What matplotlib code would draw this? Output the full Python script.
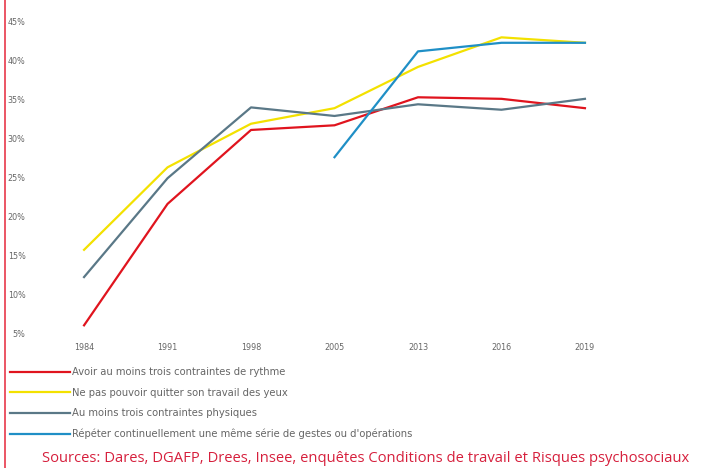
import matplotlib.pyplot as plt
from matplotlib.lines import Line2D

years = ['1984', '1991', '1998', '2005', '2013', '2016', '2019']
y_ticks = [5, 10, 15, 20, 25, 30, 35, 40, 45]

rythme = [6.0, 21.6, 31.1, 31.7, 35.3, 35.1, 33.9]
yeux = [15.7, 26.3, 31.9, 33.9, 39.2, 43.0, 42.3]
physiques = [12.2, 24.9, 34.0, 32.9, 34.4, 33.7, 35.1]
repeter = [None, None, None, 27.6, 41.2, 42.3, 42.3]

labels = [
    "Avoir au moins trois contraintes de rythme",
    "Ne pas pouvoir quitter son travail des yeux",
    "Au moins trois contraintes physiques",
    "Répéter continuellement une même série de gestes ou d'opérations",
]
colors = ['#e0141e', '#f3e100', '#5a7887', '#1f8fc6']

fig = plt.figure(figsize=(7.17, 4.68), dpi=100)
ax = fig.add_axes([59 / 717, 1 - 337 / 468, (610 - 59) / 717, (337 - 14) / 468])

x = list(range(len(years)))
series = [rythme, yeux, physiques, repeter]
handles = []
for vals, c, lab in zip(series, colors, labels):
    xs = [i for i, v in zip(x, vals) if v is not None]
    ys = [v for v in vals if v is not None]
    h, = ax.plot(xs, ys, color=c, lw=1.6, label=lab, solid_joinstyle='round')
    handles.append(h)

ax.set_xlim(-0.3, 6.3)
ax.set_ylim(4.5, 46)
ax.set_xticks(x)
ax.set_xticklabels(years)
ax.set_yticks(y_ticks)
ax.set_yticklabels([f'{v}%' for v in y_ticks])
ax.tick_params(length=0, labelsize=5.8, labelcolor='#666666')
ax.tick_params(axis='x', pad=4)
ax.tick_params(axis='y', pad=24)
for s in ax.spines.values():
    s.set_visible(False)

fig.legend(handles=handles, loc='upper left', bbox_to_anchor=(10 / 717, 1 - 367 / 468),
           frameon=False, fontsize=7.2, handlelength=6, handletextpad=0.2,
           labelspacing=1.05, borderpad=0, borderaxespad=0, labelcolor='#666666')

fig.text(42 / 717, 1 - 459 / 468, "Sources: Dares, DGAFP, Drees, Insee, enquêtes Conditions de travail et Risques psychosociaux",
         color='#d61f3c', fontsize=10.6, family='Open Sans', va='center', ha='left')

fig.add_artist(Line2D([5 / 717, 5 / 717], [0, 1], color='#e8384a', lw=1.2))

fig.savefig('out.png', dpi=100)
